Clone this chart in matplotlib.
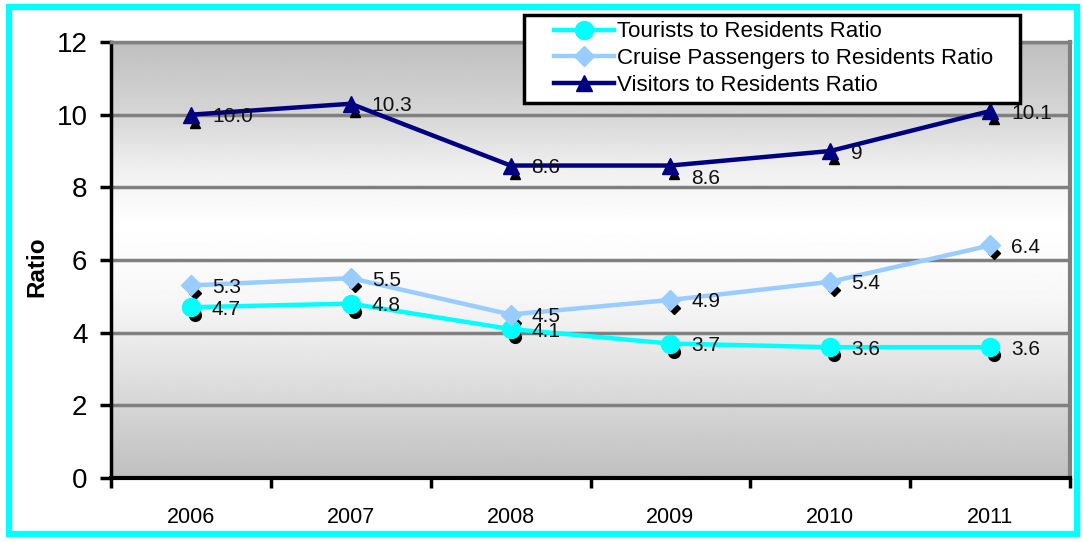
import numpy as np
import matplotlib.pyplot as plt
import matplotlib.patches as patches
import matplotlib.transforms as mtransforms

plt.rcParams['font.family'] = ['Liberation Sans', 'DejaVu Sans']

# Data
years = ['2006', '2007', '2008', '2009', '2010', '2011']
tourists = [4.7, 4.8, 4.1, 3.7, 3.6, 3.6]
cruise = [5.3, 5.5, 4.5, 4.9, 5.4, 6.4]
visitors = [10.0, 10.3, 8.6, 8.6, 9.0, 10.1]
tourists_lbl = ['4.7', '4.8', '4.1', '3.7', '3.6', '3.6']
cruise_lbl = ['5.3', '5.5', '4.5', '4.9', '5.4', '6.4']
visitors_lbl = ['10.0', '10.3', '8.6', '8.6', '9', '10.1']

W, H = 1083, 542
fig = plt.figure(figsize=(W / 100, H / 100), dpi=100)
ax = fig.add_axes([111 / W, 1 - 478 / H, (1070 - 111) / W, (478 - 42) / H])

x = np.arange(len(years)) + 0.5

# gradient background (gray - white - gray)
gy = np.linspace(0, 12, 300)
shade = np.interp(gy, [0, 2, 4, 5, 7, 8.5, 10, 12], [0.75, 0.84, 0.93, 0.97, 1.0, 0.94, 0.84, 0.75])
ax.imshow(shade[:, None], extent=[0, 6, 0, 12], origin='lower', aspect='auto',
          cmap='gray', vmin=0, vmax=1, zorder=0)

for g in range(2, 13, 2):
    ax.axhline(g, color='#808080', lw=2.5, zorder=1)

series = [
    (tourists, tourists_lbl, '#00ffff', 'o', 13, 'Tourists to Residents Ratio'),
    (cruise, cruise_lbl, '#99ccff', 'D', 10, 'Cruise Passengers to Residents Ratio'),
    (visitors, visitors_lbl, '#000080', '^', 11, 'Visitors to Residents Ratio'),
]

shadow = ax.transData + mtransforms.ScaledTranslation(4 / 100, -8 / 100, fig.dpi_scale_trans)
for vals, lbls, col, mk, ms, name in series:
    ax.plot(x, vals, ls='none', marker=mk, ms=ms * 0.65, color='black', transform=shadow, zorder=2)
    ax.plot(x, vals, color=col, lw=3.2, marker=mk, ms=ms, mec=col, label=name, zorder=3)
    for i, (xi, v, t) in enumerate(zip(x, vals, lbls)):
        dy = -13 if (name.startswith('Visitors') and i == 3) else -2
        ax.annotate(t, (xi, v), xytext=(21, dy), textcoords='offset pixels',
                    ha='left', va='center', fontsize=15, color='#111111', zorder=4)

ax.set_xlim(0, 6)
ax.set_ylim(0, 12)
ax.set_yticks(range(0, 13, 2))
ax.tick_params(axis='y', direction='out', length=8, width=2.5, labelsize=20, pad=9)
ax.set_xticks(range(0, 7))
ax.set_xticklabels([])
ax.tick_params(axis='x', which='major', direction='out', length=7, width=2.5)
ax.set_xticks(x, minor=True)
ax.set_xticklabels(years, minor=True)
ax.tick_params(axis='x', which='minor', length=0, labelsize=15.5, pad=21)

ax.spines['left'].set_color('black')
ax.spines['left'].set_linewidth(2.5)
ax.spines['bottom'].set_color('black')
ax.spines['bottom'].set_linewidth(3)
ax.spines['top'].set_color('#808080')
ax.spines['top'].set_linewidth(2.5)
ax.spines['right'].set_color('#808080')
ax.spines['right'].set_linewidth(3)

fig.text(37 / W, 1 - 267 / H, 'Ratio', rotation=90, fontsize=17.5, fontweight='bold',
         ha='center', va='center')

# legend box drawn separately so the entries can sit with a wider left margin
box = patches.Rectangle((524 / W, 1 - 103 / H), (1020 - 524) / W, (103 - 15) / H,
                        transform=fig.transFigure, facecolor='white', edgecolor='black',
                        lw=2.5, zorder=9)
fig.patches.append(box)
leg = fig.legend(loc='upper left', bbox_to_anchor=(550 / W, 1 - 17 / H),
                 fontsize=16, frameon=False, handlelength=2.7,
                 labelspacing=0.25, borderpad=0.2, handletextpad=0.1, borderaxespad=0)
leg.set_zorder(10)

fig.patches.append(patches.Rectangle((9 / W, 8 / H), (1077 - 9) / W, (535 - 8) / H,
                                     transform=fig.transFigure, fill=False,
                                     edgecolor='#00ffff', lw=4.5))

fig.savefig('out.png', dpi=100)
